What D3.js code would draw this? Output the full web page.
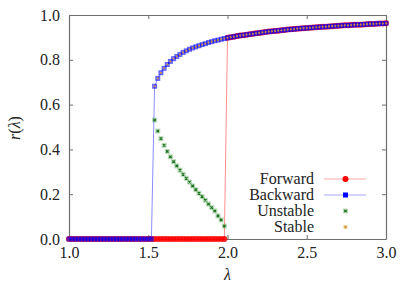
<!DOCTYPE html>
<html>
<head>
<meta charset="utf-8">
<script src="https://cdn.jsdelivr.net/npm/d3@7"></script>
<style>
  body { margin: 0; background: #fff; }
  text { font-family: "Liberation Serif", "DejaVu Serif", serif; }
</style>
</head>
<body>
<div id="chart"></div>
<script>
// lambda grid of the low (r = 0) branch
const lambdaLow = [1.00, 1.02, 1.04, 1.06, 1.08, 1.10, 1.12, 1.14, 1.16, 1.18,
  1.20, 1.22, 1.24, 1.26, 1.28, 1.30, 1.32, 1.34, 1.36, 1.38,
  1.40, 1.42, 1.44, 1.46, 1.48, 1.50, 1.52, 1.54, 1.56, 1.58,
  1.60, 1.62, 1.64, 1.66, 1.68, 1.70, 1.72, 1.74, 1.76, 1.78,
  1.80, 1.82, 1.84, 1.86, 1.88, 1.90, 1.92, 1.94, 1.96, 1.98];
const rLow = [0, 0, 0, 0, 0, 0, 0, 0, 0, 0,
  0, 0, 0, 0, 0, 0, 0, 0, 0, 0,
  0, 0, 0, 0, 0, 0, 0, 0, 0, 0,
  0, 0, 0, 0, 0, 0, 0, 0, 0, 0,
  0, 0, 0, 0, 0, 0, 0, 0, 0, 0];

// synchronised (upper) branch
const lambdaUpper = [1.54, 1.56, 1.58, 1.60, 1.62, 1.64, 1.66, 1.68, 1.70, 1.72,
  1.74, 1.76, 1.78, 1.80, 1.82, 1.84, 1.86, 1.88, 1.90, 1.92,
  1.94, 1.96, 1.98, 2.00, 2.02, 2.04, 2.06, 2.08, 2.10, 2.12,
  2.14, 2.16, 2.18, 2.20, 2.22, 2.24, 2.26, 2.28, 2.30, 2.32,
  2.34, 2.36, 2.38, 2.40, 2.42, 2.44, 2.46, 2.48, 2.50, 2.52,
  2.54, 2.56, 2.58, 2.60, 2.62, 2.64, 2.66, 2.68, 2.70, 2.72,
  2.74, 2.76, 2.78, 2.80, 2.82, 2.84, 2.86, 2.88, 2.90, 2.92,
  2.94, 2.96, 2.98, 3.00];
const rUpper = [0.682, 0.717, 0.742, 0.762, 0.779, 0.793, 0.805, 0.815, 0.824, 0.833,
  0.840, 0.847, 0.853, 0.858, 0.863, 0.868, 0.872, 0.877, 0.881, 0.885,
  0.888, 0.892, 0.895, 0.898, 0.901, 0.903, 0.906, 0.908, 0.910, 0.912,
  0.914, 0.916, 0.918, 0.920, 0.922, 0.924, 0.926, 0.927, 0.929, 0.930,
  0.932, 0.933, 0.935, 0.936, 0.937, 0.939, 0.940, 0.941, 0.942, 0.943,
  0.944, 0.945, 0.946, 0.947, 0.948, 0.949, 0.950, 0.951, 0.952, 0.953,
  0.954, 0.954, 0.955, 0.956, 0.957, 0.957, 0.958, 0.959, 0.960, 0.960,
  0.961, 0.962, 0.962, 0.963];

// unstable branch
const lambdaUnstable = [1.54, 1.56, 1.58, 1.60, 1.62, 1.64, 1.66, 1.68, 1.70, 1.72,
  1.74, 1.76, 1.78, 1.80, 1.82, 1.84, 1.86, 1.88, 1.90, 1.92,
  1.94, 1.96, 1.98];
const rUnstable = [0.531, 0.482, 0.448, 0.418, 0.391, 0.367, 0.345, 0.326, 0.307, 0.289,
  0.271, 0.254, 0.237, 0.220, 0.204, 0.189, 0.173, 0.156, 0.140, 0.125,
  0.103, 0.085, 0.058];

const xTicks = [1.0, 1.5, 2.0, 2.5, 3.0];
const yTicks = [0.0, 0.2, 0.4, 0.6, 0.8, 1.0];
const seriesNames = ["Forward", "Backward", "Unstable", "Stable"];

const low = lambdaLow.map((l, i) => ({ l: l, r: rLow[i] }));
const upper = lambdaUpper.map((l, i) => ({ l: l, r: rUpper[i] }));
const unstable = lambdaUnstable.map((l, i) => ({ l: l, r: rUnstable[i] }));

const forward = low.concat(upper.filter(d => d.l >= 2.0));
const backward = upper.slice().reverse().concat(low.filter(d => d.l <= 1.52).reverse());

const W = 415, H = 291;
const margin = { top: 15, right: 29, bottom: 52, left: 69 };
const width = W - margin.left - margin.right;
const height = H - margin.top - margin.bottom;

const svg = d3.select('#chart')
  .append('svg')
  .attr('width', W)
  .attr('height', H)
  .append('g')
  .attr('transform', `translate(${margin.left},${margin.top})`);

const x = d3.scaleLinear().domain([1, 3]).range([0, width]);
const y = d3.scaleLinear().domain([0, 1]).range([height, 0]);

const axisColor = '#6e6e6e';

// axes with inward ticks, mirrored on top/right
const fmt = d3.format('.1f');
const gx = svg.append('g').attr('transform', `translate(0,${height})`)
  .call(d3.axisBottom(x).tickValues(xTicks).tickFormat(fmt).tickSizeInner(-4).tickSizeOuter(0).tickPadding(8));
const gy = svg.append('g')
  .call(d3.axisLeft(y).tickValues(yTicks).tickFormat(fmt).tickSizeInner(-4).tickSizeOuter(0).tickPadding(9));
const gx2 = svg.append('g')
  .call(d3.axisTop(x).tickValues(xTicks).tickFormat('').tickSizeInner(-4).tickSizeOuter(0));
const gy2 = svg.append('g').attr('transform', `translate(${width},0)`)
  .call(d3.axisRight(y).tickValues(yTicks).tickFormat('').tickSizeInner(-4).tickSizeOuter(0));

[gx, gy, gx2, gy2].forEach(g => {
  g.select('.domain').attr('stroke', axisColor).attr('stroke-width', 1.2);
  g.selectAll('.tick line').attr('stroke', axisColor);
  g.selectAll('.tick text').attr('fill', '#222').style('font-size', '16px');
});

const line = d3.line().x(d => x(d.l)).y(d => y(d.r));

// forward sweep
svg.append('path').datum(forward)
  .attr('d', line).attr('fill', 'none')
  .attr('stroke', 'red').attr('stroke-opacity', 0.45).attr('stroke-width', 1);
svg.append('g').selectAll('circle').data(forward).join('circle')
  .attr('cx', d => x(d.l)).attr('cy', d => y(d.r)).attr('r', 3)
  .attr('fill', 'red').attr('fill-opacity', 0.85);

// backward sweep
svg.append('path').datum(backward)
  .attr('d', line).attr('fill', 'none')
  .attr('stroke', 'blue').attr('stroke-opacity', 0.45).attr('stroke-width', 1);
svg.append('g').selectAll('rect').data(backward).join('rect')
  .attr('x', d => x(d.l) - 2.5).attr('y', d => y(d.r) - 2.5)
  .attr('width', 5).attr('height', 5)
  .attr('fill', 'blue').attr('fill-opacity', 0.6);

// unstable: x marks with a pale square halo
function drawCross(g, cx, cy) {
  g.append('rect').attr('x', cx - 2.5).attr('y', cy - 2.5).attr('width', 5).attr('height', 5)
    .attr('fill', '#3a9a3a').attr('fill-opacity', 0.35);
  g.append('path').attr('d', `M${cx - 1.2},${cy - 1.2}L${cx + 1.2},${cy + 1.2}M${cx - 1.2},${cy + 1.2}L${cx + 1.2},${cy - 1.2}`)
    .attr('stroke', '#1f6e1f').attr('stroke-width', 1.2);
}
const gu = svg.append('g');
unstable.forEach(d => drawCross(gu, x(d.l), y(d.r)));

// stable: small orange dots
svg.append('g').selectAll('circle').data(upper).join('circle')
  .attr('cx', d => x(d.l)).attr('cy', d => y(d.r)).attr('r', 1.1)
  .attr('fill', '#e0a030').attr('fill-opacity', 0.85);

// legend
const lg = svg.append('g');
const legendRight = 314 - margin.left;
const sx0 = 324 - margin.left, sx1 = 366 - margin.left, sxm = 345.5 - margin.left;
seriesNames.forEach((name, i) => {
  const ly = 179 - margin.top + i * 16;
  lg.append('text').attr('x', legendRight).attr('y', ly).attr('dy', '0.33em')
    .attr('text-anchor', 'end').style('font-size', '16px').attr('fill', '#222').text(name);
  if (i === 0) {
    lg.append('line').attr('x1', sx0).attr('x2', sx1).attr('y1', ly).attr('y2', ly)
      .attr('stroke', 'red').attr('stroke-opacity', 0.35);
    lg.append('circle').attr('cx', sxm).attr('cy', ly).attr('r', 3).attr('fill', 'red');
  } else if (i === 1) {
    lg.append('line').attr('x1', sx0).attr('x2', sx1).attr('y1', ly).attr('y2', ly)
      .attr('stroke', 'blue').attr('stroke-opacity', 0.35);
    lg.append('rect').attr('x', sxm - 2.5).attr('y', ly - 2.5).attr('width', 5).attr('height', 5).attr('fill', 'blue');
  } else if (i === 2) {
    drawCross(lg, sxm, ly);
  } else {
    lg.append('rect').attr('x', sxm - 2).attr('y', ly - 2).attr('width', 4).attr('height', 4)
      .attr('fill', '#e0a030').attr('fill-opacity', 0.5);
    lg.append('circle').attr('cx', sxm).attr('cy', ly).attr('r', 1).attr('fill', '#c08020');
  }
});

// axis labels
svg.append('text')
  .attr('x', width / 2).attr('y', height + 41)
  .attr('text-anchor', 'middle').style('font-size', '16px').style('font-style', 'italic')
  .attr('fill', '#222').text('λ');
svg.append('text')
  .attr('transform', `translate(${15 - margin.left},${128 - margin.top}) rotate(-90)`)
  .attr('text-anchor', 'middle').attr('dy', '0.33em').style('font-size', '16px')
  .attr('fill', '#222')
  .html('<tspan font-style="italic">r</tspan>(<tspan font-style="italic">λ</tspan>)');
</script>
</body>
</html>
